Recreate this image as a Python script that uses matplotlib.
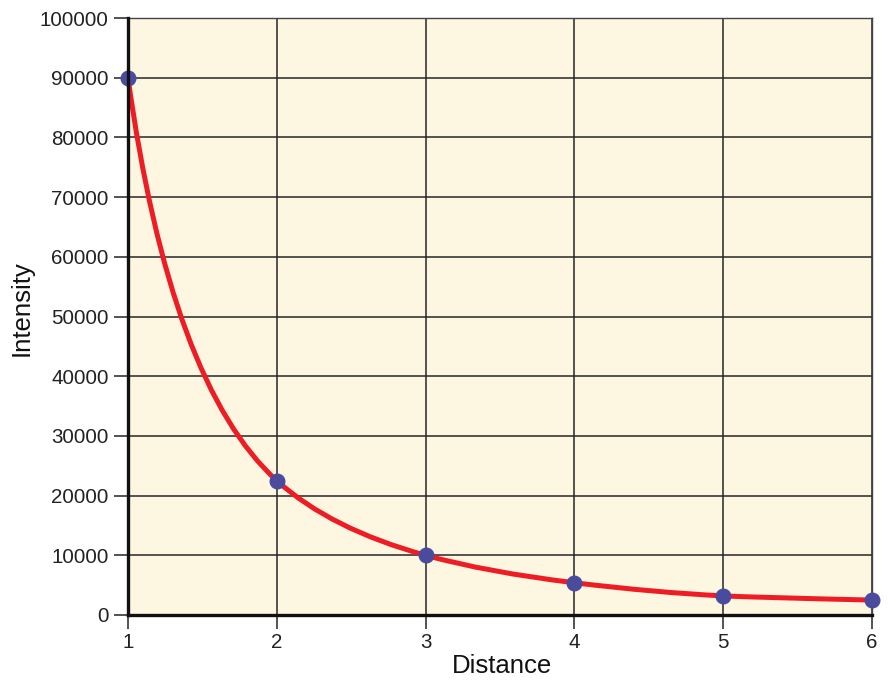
import numpy as np
import matplotlib.pyplot as plt
from matplotlib.path import Path
from matplotlib.patches import PathPatch

distance = [1, 2, 3, 4, 5, 6]
intensity = [90000, 22500, 10000, 5400, 3200, 2500]

plt.rcParams['font.family'] = ['Liberation Sans', 'DejaVu Sans']

fig = plt.figure(figsize=(8.89, 6.81), dpi=100)
ax = fig.add_axes([128 / 889, 1 - 615 / 681, 744 / 889, 597 / 681])
ax.set_facecolor('#fdf6e1')

# smooth line: quadratic bezier per segment, control point where the tangents meet
x = np.array(distance, dtype=float)
y = np.array(intensity, dtype=float)
lx, ly = np.log(x), np.log(y)
m = np.zeros(len(x))
for i in range(len(x)):
    a, b = max(i - 1, 0), min(i + 1, len(x) - 1)
    m[i] = (ly[b] - ly[a]) / (lx[b] - lx[a]) * y[i] / x[i]
verts = [(x[0], y[0])]
codes = [Path.MOVETO]
for i in range(len(x) - 1):
    cx = (y[i + 1] - y[i] + m[i] * x[i] - m[i + 1] * x[i + 1]) / (m[i] - m[i + 1])
    cy = y[i] + m[i] * (cx - x[i])
    verts += [(cx, cy), (x[i + 1], y[i + 1])]
    codes += [Path.CURVE3, Path.CURVE3]
ax.add_patch(PathPatch(Path(verts, codes), facecolor='none', edgecolor='#ee1c25',
                       lw=3.6, zorder=3, clip_on=False))
ax.plot(distance, intensity, 'o', color='#4b4b9e', ms=10.5, zorder=4, clip_on=False)

ax.set_xlim(1, 6)
ax.set_ylim(0, 100000)
ax.set_xticks(distance)
ax.set_yticks(np.arange(0, 100001, 10000))
ax.grid(True, color='#262626', lw=1.1)
ax.set_axisbelow(True)

for s in ['left', 'bottom']:
    ax.spines[s].set_linewidth(2.4)
    ax.spines[s].set_color('#111111')
    ax.spines[s].set_zorder(5)
for s in ['top', 'right']:
    ax.spines[s].set_linewidth(1.0)
    ax.spines[s].set_color('#444444')

ax.tick_params(axis='both', direction='out', length=10, width=1.3, color='#444444',
               labelsize=14.8, labelcolor='#222222')
ax.tick_params(axis='x', pad=3)
ax.tick_params(axis='y', pad=4)

ax.set_xlabel('Distance', fontsize=18.5, color='#111111')
ax.set_ylabel('Intensity', fontsize=18.5, color='#111111')
ax.xaxis.set_label_coords(0.503, -0.065)
ax.yaxis.set_label_coords(-0.127, 0.514)

fig.savefig('out.png', dpi=100)
